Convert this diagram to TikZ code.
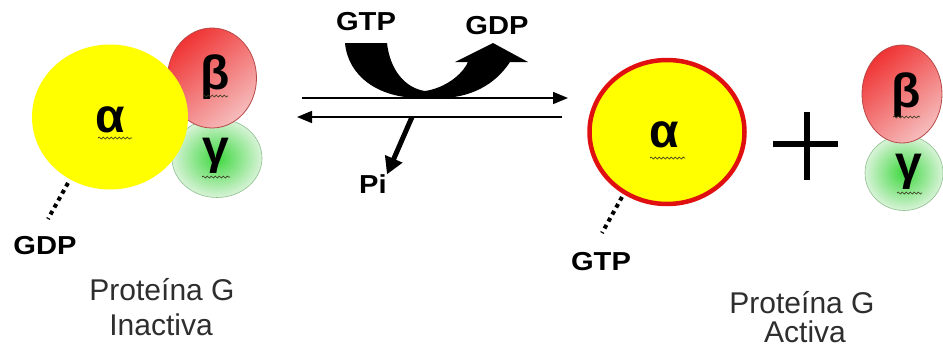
\documentclass[tikz,border=0pt]{standalone}
\usepackage{fontspec}
\setmainfont{Liberation Sans}
\usetikzlibrary{shapes.geometric,arrows.meta,decorations.pathmorphing}

\definecolor{alphayellow}{HTML}{FFFF00}
\definecolor{activered}{HTML}{E01010}
\definecolor{betadark}{HTML}{F03434}
\definecolor{betalight}{HTML}{F6BCBC}
\definecolor{betaedge}{HTML}{B84848}
\definecolor{gammacore}{HTML}{3ED83E}
\definecolor{gammarim}{HTML}{D8F3D8}
\definecolor{gammaedge}{HTML}{8CC08C}
\definecolor{squig}{HTML}{3A3A20}
\definecolor{caption}{HTML}{2E2E2E}

\tikzset{
  x=1pt, y=-1pt,
  subunit/.style={ellipse, inner sep=0pt},
  alphaunit/.style={subunit, fill=alphayellow},
  betaunit/.style={subunit, draw=betaedge, line width=0.8pt,
    top color=betadark, bottom color=betalight, shading angle=40},
  gammaunit/.style={subunit, draw=gammaedge, line width=0.6pt,
    inner color=gammacore, outer color=gammarim},
  greek/.style={inner sep=0pt, font=\fontsize{48}{52}\selectfont\bfseries},
  nucleotide/.style={inner sep=0pt, font=\fontsize{26}{30}\selectfont\bfseries, xscale=1.12},
  caplabel/.style={inner sep=0pt, anchor=base, text=caption, font=\fontsize{30}{34}\selectfont},
  squiggle/.style={draw=squig, line width=0.7pt,
    decorate, decoration={snake, segment length=4pt, amplitude=1pt}},
  dotline/.style={line width=4pt, dash pattern=on 4pt off 4pt},
  reaction/.style={line width=1.6pt, -{Triangle[length=15pt, width=12pt]}},
  release/.style={line width=5pt, -{Triangle[length=17pt, width=18pt]}},
}

\begin{document}
\begin{tikzpicture}
\useasboundingbox[fill=white] (0,0) rectangle (943,354);

% ---- inactive heterotrimer: alpha bound to beta/gamma, GDP loaded
\node[gammaunit, minimum width=90pt, minimum height=79pt] (gamL) at (217,158) {};
\node[betaunit, minimum width=89pt, minimum height=100pt] (betL) at (212,78) {};
\node[alphaunit, minimum width=156pt, minimum height=145pt] (alpL) at (110,117) {};
\node[greek] (txtAlpL) at (110,120) {α};
\node[greek] (txtBetL) at (215,77) {β};
\node[greek] (txtGamL) at (216,156) {γ};
\draw[squiggle] (98,138) -- (132,138);
\draw[squiggle] (203,96) -- (228,96);
\draw[squiggle] (202,177) -- (230,177);

\node[nucleotide] (gdpL) at (45,246) {GDP};
\coordinate (dotLa) at (68,183);
\coordinate (dotLb) at (48,219);
\draw[dotline] (dotLa) -- (dotLb);

\node[caplabel] (capL1) at (162,300) {Proteína G};
\node[caplabel] (capL2) at (161,335) {Inactiva};

% ---- exchange reaction
\node[nucleotide] (gtpIn) at (366,22) {GTP};
\node[nucleotide] (gdpOut) at (497,26) {GDP};
\node[nucleotide] (piOut) at (373,184) {Pi};

% GTP in / GDP out: thick curved band
\fill[black] (345,43) -- (387,43)
  .. controls (390,70) and (405,88) .. (425,91)
  .. controls (445,88) and (462,75) .. (468,62)
  -- (455,62) -- (493,43) -- (528,62) -- (510,62)
  .. controls (495,85) and (470,98) .. (440,98)
  -- (420,98)
  .. controls (378,98) and (348,76) .. (345,43) -- cycle;

\coordinate (fwdA) at (302,98);
\coordinate (fwdB) at (568,98);
\coordinate (revA) at (562,117);
\coordinate (revB) at (297,117);
\draw[reaction] (fwdA) -- (fwdB);
\draw[reaction] (revA) -- (revB);

\coordinate (piStart) at (412,117);
\draw[release] (piStart) -- (piOut.north east);

% ---- active alpha-GTP plus free beta/gamma dimer
\node[alphaunit, draw=activered, line width=4.5pt, minimum width=155pt, minimum height=144pt] (alpR) at (667,132) {};
\node[greek] (txtAlpR) at (664,135) {α};
\draw[squiggle] (650,158) -- (685,158);

\node[nucleotide] (gtpR) at (601,262) {GTP};
\coordinate (dotRa) at (622,197);
\coordinate (dotRb) at (602,233);
\draw[dotline] (dotRa) -- (dotRb);

\coordinate (plusW) at (773,144);
\coordinate (plusE) at (838,144);
\coordinate (plusN) at (807,112);
\coordinate (plusS) at (807,180);
\draw[line width=6pt] (plusW) -- (plusE);
\draw[line width=6pt] (plusN) -- (plusS);

\node[gammaunit, minimum width=78pt, minimum height=75pt] (gamR) at (904,173) {};
\node[betaunit, minimum width=80pt, minimum height=98pt] (betR) at (902,94) {};
\node[greek] (txtBetR) at (906,95) {β};
\node[greek] (txtGamR) at (909,172) {γ};
\draw[squiggle] (893,117) -- (920,117);
\draw[squiggle] (897,193) -- (922,193);

\node[caplabel] (capR1) at (802,313) {Proteína G};
\node[caplabel] (capR2) at (805,342) {Activa};
\end{tikzpicture}
\end{document}
